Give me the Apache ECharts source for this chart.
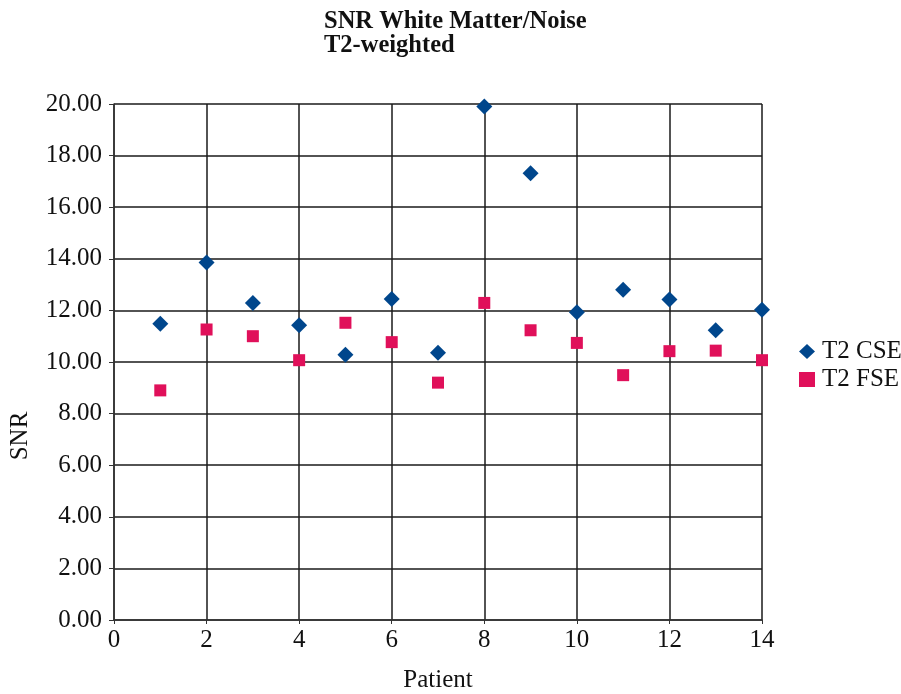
<!DOCTYPE html>
<html>
<head>
<meta charset="utf-8">
<script src="https://cdn.jsdelivr.net/npm/echarts@6/dist/echarts.min.js"></script>
<style>html,body{margin:0;padding:0;background:#fff;}#c{width:901px;height:694px;}</style>
</head>
<body>
<div id="c"></div>
<script>
const patients = [1,2,3,4,5,6,7,8,9,10,11,12,13,14];
const t2CSE = [11.48,13.86,12.29,11.42,10.28,12.44,10.36,19.9,17.32,11.93,12.8,12.42,11.23,12.03];
const t2FSE = [8.9,11.26,11.0,10.07,11.52,10.77,9.2,12.29,11.23,10.74,9.49,10.42,10.44,10.07];
const seriesNames = ['T2 CSE','T2 FSE'];
const titleLines = ['SNR White Matter/Noise','T2-weighted'];
const xName = 'Patient';
const yName = 'SNR';

const font = '"Liberation Serif", "DejaVu Serif", serif';
const chart = echarts.init(document.getElementById('c'));
chart.setOption({
  animation: false,
  backgroundColor: '#fff',
  title: {
    text: titleLines.join('\n'),
    left: 319, top: 5,
    textStyle: {fontFamily: font, fontSize: 24.5, fontWeight: 'bold', color: '#111', lineHeight: 24}
  },
  graphic: [{
    type: 'text', x: 20, y: 436, rotation: Math.PI / 2,
    style: {text: yName, font: '25px ' + font, fill: '#111', align: 'center', verticalAlign: 'middle'}
  }],
  legend: {
    orient: 'vertical', left: 794, top: 334, itemGap: 3,
    itemWidth: 16, itemHeight: 15,
    textStyle: {fontFamily: font, fontSize: 25, color: '#111', padding: [0, 0, 0, 2]},
    data: [{name: seriesNames[0], icon: 'diamond'}, {name: seriesNames[1], icon: 'rect'}]
  },
  grid: {left: 114, right: 139, top: 104, bottom: 74, outerBoundsMode: 'none', containLabel: false},
  xAxis: {
    type: 'value', min: 0, max: 14, interval: 2,
    name: xName, nameLocation: 'middle', nameGap: 48,
    nameTextStyle: {fontFamily: font, fontSize: 25, color: '#111'},
    axisLine: {lineStyle: {color: '#333', width: 1.5}},
    axisTick: {show: true, length: 4, lineStyle: {color: '#333'}},
    axisLabel: {fontFamily: font, fontSize: 25, color: '#111', margin: 8},
    splitLine: {show: true, lineStyle: {color: '#1a1a1a', width: 1.5}}
  },
  yAxis: {
    type: 'value', min: 0, max: 20, interval: 2,
    axisLine: {show: true, lineStyle: {color: '#333', width: 1.5}},
    axisTick: {show: true, length: 5, lineStyle: {color: '#333'}},
    axisLabel: {fontFamily: font, fontSize: 25, color: '#111', margin: 12,
      formatter: v => v.toFixed(2)},
    splitLine: {show: true, lineStyle: {color: '#1a1a1a', width: 1.5}}
  },
  series: [
    {name: seriesNames[0], type: 'scatter', symbol: 'diamond', symbolSize: 16,
     itemStyle: {color: '#00468C', opacity: 1},
     data: patients.map((p, i) => [p, t2CSE[i]])},
    {name: seriesNames[1], type: 'scatter', symbol: 'rect', symbolSize: 12,
     itemStyle: {color: '#E0105A', opacity: 1},
     data: patients.map((p, i) => [p, t2FSE[i]])}
  ]
});
</script>
</body>
</html>
